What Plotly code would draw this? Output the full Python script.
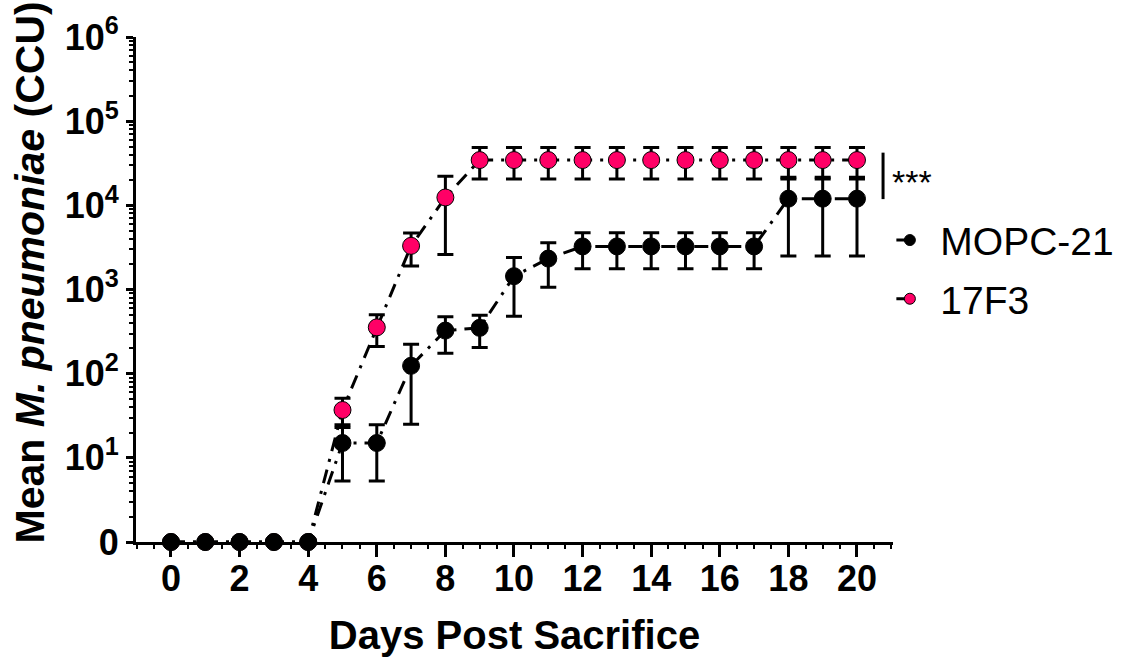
import plotly.graph_objects as go

# ---- data ----
days = list(range(0, 21))
mopc_mean = [0, 0, 0, 0, 0, 15, 15, 124, 325, 350, 1440, 2330,
             3250, 3250, 3250, 3250, 3250, 3250, 12000, 12000, 12000]
mopc_sem = [0, 0, 0, 0, 0, 9.7, 9.7, 99, 150, 145, 960, 1270,
            1480, 1480, 1480, 1480, 1480, 1480, 9500, 9500, 9500]
f3_mean = [0, 0, 0, 0, 0, 37, 355, 3300, 12400, 34500, 34500, 34500,
           34500, 34500, 34500, 34500, 34500, 34500, 34500, 34500, 34500]
f3_sem = [0, 0, 0, 0, 0, 14, 145, 1400, 9800, 14000, 14000, 14000,
          14000, 14000, 14000, 14000, 14000, 14000, 14000, 14000, 14000]

series_names = ["MOPC-21", "17F3"]
ytick_vals = [1, 10, 100, 1000, 10000, 100000, 1000000]
ytick_text = ["0", "10<sup>1</sup>", "10<sup>2</sup>", "10<sup>3</sup>",
              "10<sup>4</sup>", "10<sup>5</sup>", "10<sup>6</sup>"]
xtick_vals = list(range(0, 21, 2))

PINK = "#FF0066"
FONT = "Liberation Sans, Arial, sans-serif"
DASH = "14px,8px,3px,8px"


def plot_vals(v):
    # zero is drawn at the bottom of the log axis (the "0" tick)
    return [x if x > 0 else 1 for x in v]


fig = go.Figure()

fig.add_trace(go.Scatter(
    x=days, y=plot_vals(f3_mean), mode="lines+markers", name=series_names[1],
    showlegend=False, cliponaxis=False,
    line=dict(color="black", width=3, dash=DASH),
    marker=dict(size=17, color=PINK, line=dict(color="black", width=1)),
    error_y=dict(type="data", array=f3_sem, arrayminus=f3_sem,
                 color="black", thickness=3, width=8),
))
fig.add_trace(go.Scatter(
    x=days, y=plot_vals(mopc_mean), mode="lines+markers", name=series_names[0],
    showlegend=False, cliponaxis=False,
    line=dict(color="black", width=3, dash=DASH),
    marker=dict(size=17, color="black", line=dict(color="black", width=1)),
    error_y=dict(type="data", array=mopc_sem, arrayminus=mopc_sem,
                 color="black", thickness=3, width=8),
))

# legend entries
for name, col in [(series_names[0], "black"), (series_names[1], PINK)]:
    fig.add_trace(go.Scatter(
        x=[None], y=[None], mode="lines+markers", name=name,
        legendgroup=name,
        line=dict(color="black", width=3, dash="0px,12px,10px,100px"),
        marker=dict(size=11, color=col, line=dict(color="black", width=1)),
    ))

minor_y = [m * 10 ** k for k in range(0, 6) for m in range(2, 10)]

fig.update_layout(
    width=1122, height=661,
    margin=dict(l=136, r=229, t=37, b=119, autoexpand=False),
    paper_bgcolor="white", plot_bgcolor="white",
    font=dict(family=FONT, color="black"),
    showlegend=True,
    legend=dict(x=0.982, xanchor="left", y=0.661, yanchor="top",
                font=dict(family=FONT, size=39, color="black"),
                itemwidth=51,
                tracegroupgap=5, bgcolor="rgba(0,0,0,0)"),
    xaxis=dict(
        range=[-1.02, 21.05], tickmode="array", tickvals=xtick_vals,
        ticks="outside", ticklen=12, tickwidth=3, tickcolor="black",
        showline=True, linewidth=3, linecolor="black", showgrid=False,
        zeroline=False, layer="below traces", automargin=False,
        ticklabelstandoff=-9,
        tickfont=dict(family=FONT, size=36, color="black", weight="bold"),
        minor=dict(dtick=0.5, ticks="outside", ticklen=4, tickwidth=2,
                   tickcolor="black", showgrid=False),
        title=dict(text="<b>Days Post Sacrifice</b>", standoff=23,
                   font=dict(family=FONT, size=40, color="black")),
    ),
    yaxis=dict(
        type="log", range=[0, 6], tickmode="array", tickvals=ytick_vals,
        ticktext=ytick_text,
        ticks="outside", ticklen=7, tickwidth=3, tickcolor="black",
        showline=True, linewidth=3, linecolor="black", showgrid=False,
        zeroline=False, layer="below traces", automargin=False,
        tickfont=dict(family=FONT, size=36, color="black", weight="bold"),
        minor=dict(tickmode="array", tickvals=minor_y, ticks="outside",
                   ticklen=4, tickwidth=2, tickcolor="black", showgrid=False),
        title=dict(text="<b>&nbsp;&nbsp;&nbsp;Mean <i>M. pneumoniae</i> (CCU)</b>",
                   standoff=8,
                   font=dict(family=FONT, size=41, color="black")),
    ),
)

# significance bracket
fig.add_shape(type="line", xref="x", yref="paper", x0=20.76, x1=20.76,
              y0=0.679, y1=0.771, line=dict(color="black", width=3))
fig.add_annotation(x=20.95, xref="x", xanchor="left", y=0.713, yref="paper",
                   yanchor="middle", text="***", showarrow=False,
                   font=dict(family=FONT, size=34, color="black"))

fig.write_html("out.html",
               config={"displayModeBar": False},
               post_script="document.body.style.margin='0';"
                           "document.body.style.padding='0';")
